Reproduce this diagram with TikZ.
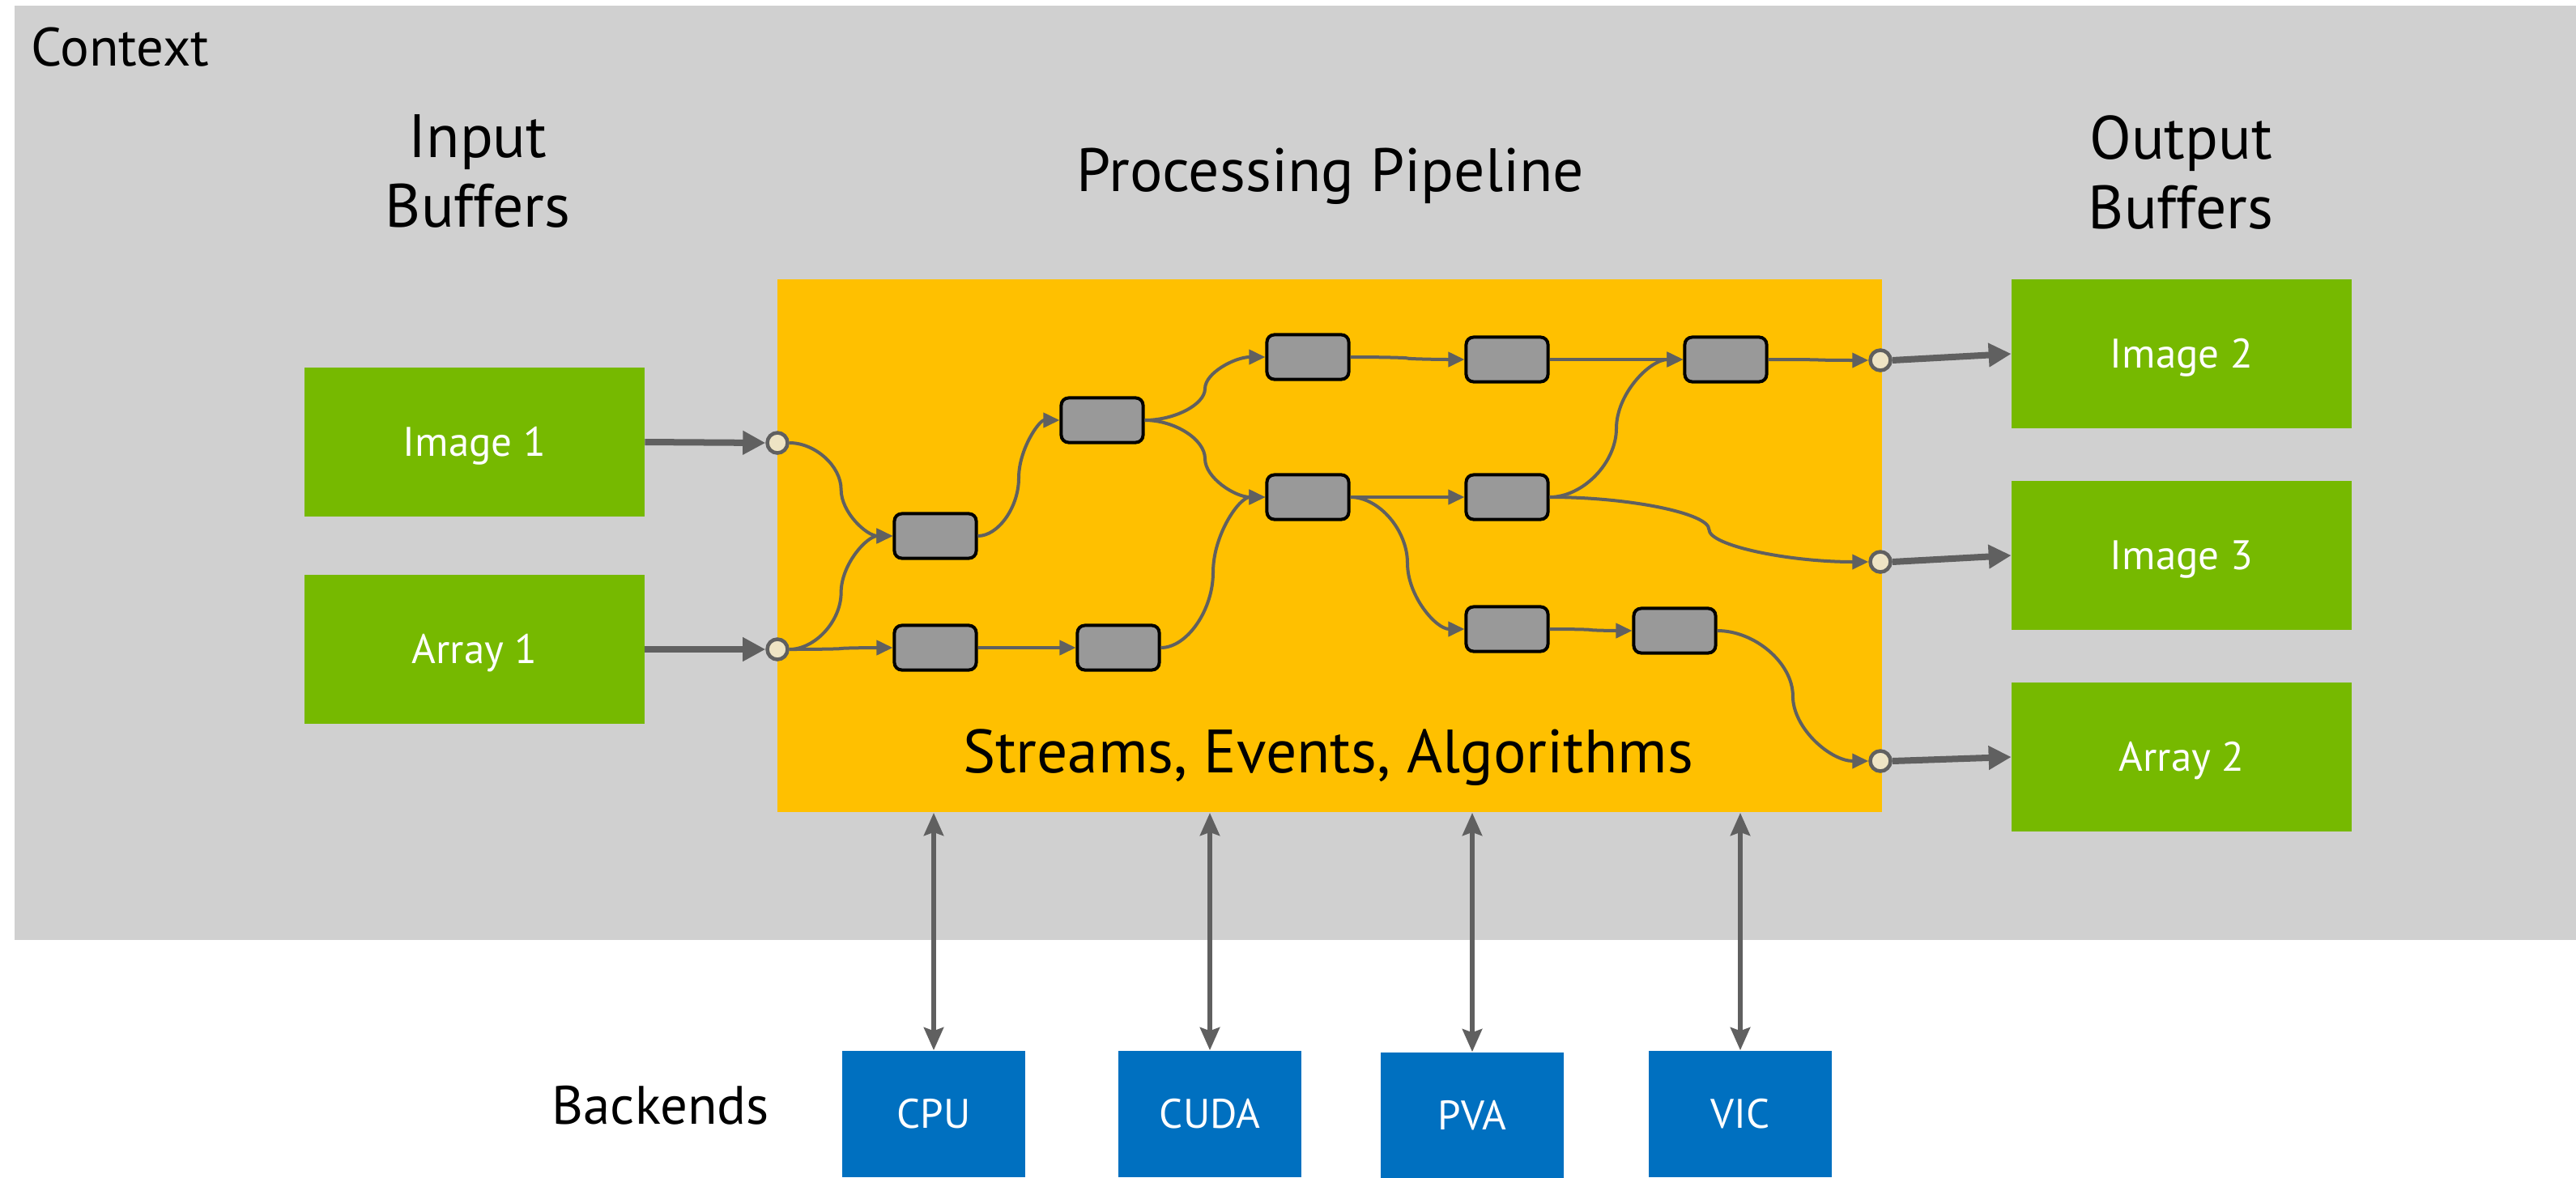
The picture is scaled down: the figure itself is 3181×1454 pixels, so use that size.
\documentclass[tikz,border=0pt]{standalone}
\usepackage{fontspec}
\setmainfont{PT Sans}
\usetikzlibrary{arrows.meta,calc}
\definecolor{ctxG}{RGB}{208,208,208}
\definecolor{pipeO}{RGB}{255,192,0}
\definecolor{bufG}{RGB}{118,185,0}
\definecolor{beB}{RGB}{0,112,192}
\definecolor{arrG}{RGB}{96,96,96}
\definecolor{stgG}{RGB}{153,153,153}
\definecolor{portF}{RGB}{238,228,196}
\begin{document}
\begin{tikzpicture}[x=0.01cm,y=-0.01cm,>={Stealth[length=2.8mm,width=2.4mm,inset=0.4mm]},
  buf/.style={fill=bufG,text=white,minimum width=4.19cm,minimum height=1.83cm,inner sep=0pt,text height=10.2pt,text depth=0pt,font=\fontsize{14.5}{17}\selectfont},
  backend/.style={fill=beB,text=white,minimum width=2.26cm,minimum height=1.56cm,inner sep=0pt,text height=10.2pt,text depth=0pt,font=\fontsize{14.5}{17}\selectfont},
  stage/.style={draw=black,fill=stgG,line width=0.4mm,rounded corners=0.9mm,minimum width=1.01cm,minimum height=0.55cm,inner sep=0pt},
  port/.style={circle,draw=arrG,fill=portF,line width=0.45mm,minimum size=2.5mm,inner sep=0pt},
  head/.style={font=\fontsize{21.5}{24.4}\selectfont,align=center,inner sep=0pt},
  lbl/.style={font=\fontsize{19}{22}\selectfont,inner sep=0pt},
  curvy/.style={to path={let \p1=(\tikztostart),\p2=(\tikztotarget),\p3=($(\p1)!.5!(\p2)$) in
    .. controls ({.75*\x1+.25*\x2},\y1) and (\x3,{.75*\y1+.25*\y2}) .. (\p3)
    .. controls (\x3,{.25*\y1+.75*\y2}) and ({.25*\x1+.75*\x2},\y2) .. (\p2)}},
  flow/.style={arrG,line width=0.4mm,-{Triangle[length=2mm,width=1.8mm]},curvy},
  feed/.style={arrG,line width=0.8mm,-{Triangle[length=2.8mm,width=2.8mm]}},
  link/.style={arrG,line width=0.6mm,<->}]
\useasboundingbox (0,0) rectangle (3181,1454);
\fill[white] (0,0) rectangle (3181,1454);
\fill[ctxG] (18,7) rectangle (3181,1161);
\node[lbl,anchor=base west] (ctx) at (38,81) {Context};
\node[head,anchor=base] (inhd) at (590,280) {Input\\Buffers};
\node[head,anchor=base] (pphd) at (1643,236) {Processing Pipeline};
\node[head,anchor=base] (outhd) at (2693,282) {Output\\Buffers};
\node[fill=pipeO,minimum width=13.64cm,minimum height=6.58cm,inner sep=0pt] (pipe) at (1642,674) {};
\node[head,anchor=base] (pptxt) at (1640,954) {Streams, Events, Algorithms};

\node[buf] (img1) at (586,546) {Image 1};
\node[buf] (arr1) at (586,802) {Array 1};
\node[buf] (img2) at (2694,437) {Image 2};
\node[buf] (img3) at (2694,686) {Image 3};
\node[buf] (arr2) at (2694,935) {Array 2};

\node[lbl,anchor=base west] (bkd) at (681,1388) {Backends};
\node[backend] (cpu) at (1153,1376) {CPU};
\node[backend] (cuda) at (1494,1376) {CUDA};
\node[backend] (pva) at (1818,1378) {PVA};
\node[backend] (vic) at (2149,1376) {VIC};
\draw[link] (cpu.north) -- (cpu.north |- pipe.south);
\draw[link] (cuda.north) -- (cuda.north |- pipe.south);
\draw[link] (pva.north) -- (pva.north |- pipe.south);
\draw[link] (vic.north) -- (vic.north |- pipe.south);

\node[port] (pin1) at (960,547) {};
\node[port] (pin2) at (960,802) {};
\node[port] (pout1) at (2322,445) {};
\node[port] (pout2) at (2322,694) {};
\node[port] (pout3) at (2322,940) {};
\draw[feed] (img1.east) -- (pin1.west);
\draw[feed] (arr1.east) -- (pin2.west);
\draw[feed] (pout1.east) -- (img2.west);
\draw[feed] (pout2.east) -- (img3.west);
\draw[feed] (pout3.east) -- (arr2.west);

\node[stage] (st1) at (1155,662) {};
\node[stage] (st2) at (1155,800) {};
\node[stage] (st3) at (1361,519) {};
\node[stage] (st4) at (1381,800) {};
\node[stage] (st5) at (1615,441) {};
\node[stage] (st6) at (1615,614) {};
\node[stage] (st7) at (1861,444) {};
\node[stage] (st8) at (1861,614) {};
\node[stage] (st9) at (1861,777) {};
\node[stage] (st10) at (2131,444) {};
\node[stage] (st11) at (2068,779) {};

\draw[flow] (pin1.east) to (st1.west);
\draw[flow] (pin2.east) to (st1.west);
\draw[flow] (pin2.east) to (st2.west);
\draw[flow] (st1.east) to (st3.west);
\draw[flow] (st2.east) to (st4.west);
\draw[flow] (st3.east) to (st5.west);
\draw[flow] (st3.east) to (st6.west);
\draw[flow] (st4.east) to (st6.west);
\draw[flow] (st5.east) to (st7.west);
\draw[flow] (st6.east) to (st8.west);
\draw[flow] (st6.east) to (st9.west);
\draw[flow] (st7.east) to (st10.west);
\draw[flow] (st8.east) to (st10.west);
\draw[flow] (st8.east) to (pout2.west);
\draw[flow] (st9.east) to (st11.west);
\draw[flow] (st11.east) to (pout3.west);
\draw[flow] (st10.east) to (pout1.west);
\end{tikzpicture}
\end{document}
